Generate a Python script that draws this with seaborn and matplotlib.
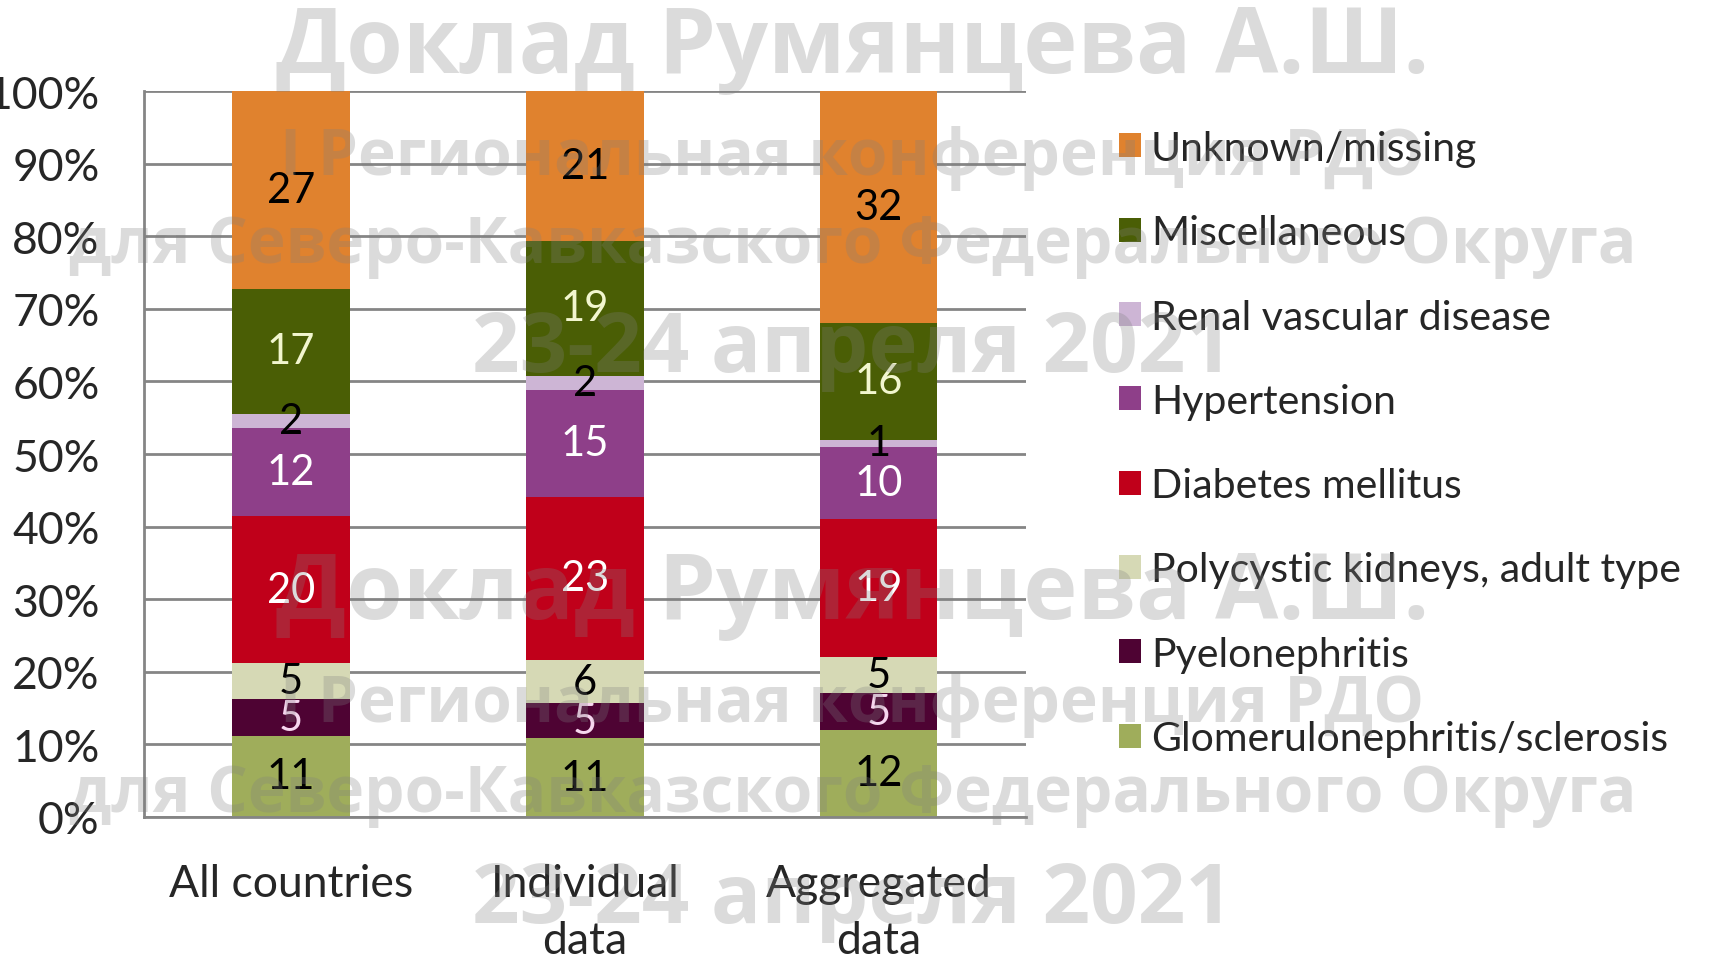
import numpy as np
import pandas as pd
import matplotlib.pyplot as plt
import matplotlib.colors as mcolors
import seaborn as sns

groups = ["All countries", "Individual\ndata", "Aggregated\ndata"]
causes = ["Unknown/missing", "Miscellaneous", "Renal vascular disease", "Hypertension",
          "Diabetes mellitus", "Polycystic kidneys, adult type", "Pyelonephritis",
          "Glomerulonephritis/sclerosis"]

unknown = [27, 21, 32]
misc = [17, 19, 16]
renal = [2, 2, 1]
hypert = [12, 15, 10]
diabetes = [20, 23, 19]
polycystic = [5, 6, 5]
pyelo = [5, 5, 5]
glomerulo = [11, 11, 12]

ytick_vals = [0, 0.1, 0.2, 0.3, 0.4, 0.5, 0.6, 0.7, 0.8, 0.9, 1.0]
ytick_labels = ["0%", "10%", "20%", "30%", "40%", "50%", "60%", "70%", "80%", "90%", "100%"]

watermark = ["Доклад Румянцева А.Ш.", "I Региональная конференция РДО",
             "для Северо-Кавказского Федерального Округа", "23-24 апреля 2021"]

colors = ["#E0822E", "#4A5E05", "#CDB5D5", "#8E3F89", "#C0001A", "#D6D9B5", "#4E0333", "#9FAD5B"]
text_colors = ["black", "#F2F6CF", "black", "white", "white", "black", "#F6D6EE", "black"]

series = [unknown, misc, renal, hypert, diabetes, polycystic, pyelo, glomerulo]
rows = []
for cause, vals in zip(causes, series):
    for g, v in zip(groups, vals):
        rows.append({"group": g, "cause": cause, "value": v})
df = pd.DataFrame(rows)
palette = dict(zip(causes, colors))

sns.set_style("white")
plt.rcParams["font.family"] = ["Lato", "DejaVu Sans"]

fig = plt.figure(figsize=(17.15, 9.62), dpi=100)
ax = fig.add_axes([0.084, 0.150, 0.514, 0.754])

sns.histplot(data=df, x="group", weights="value", hue="cause", hue_order=causes,
             multiple="fill", discrete=True, shrink=0.4, palette=palette,
             alpha=1, linewidth=0, ax=ax)

ax.set_ylim(0, 1)
ax.set_xlim(-0.5, 2.5)
ax.set_yticks(ytick_vals)
ax.set_yticklabels(ytick_labels)
ax.tick_params(axis="y", length=15, width=2, color="#8c8c8c", pad=17, labelsize=32)
ax.set_xticks([-0.5, 0.5, 1.5, 2.5])
ax.set_xticklabels([])
ax.tick_params(axis="x", length=15, width=2, color="#8c8c8c")
ax.set_xticks([0, 1, 2], minor=True)
ax.set_xticklabels(groups, minor=True)
ax.tick_params(axis="x", which="minor", length=0, pad=33, labelsize=32)
for t in ax.get_xticklabels(minor=True):
    t.set_linespacing(1.5)
    t.set_verticalalignment("top")
ax.set_xlabel("")
ax.set_ylabel("")
ax.yaxis.grid(True, color="#858585", linewidth=2)
ax.set_axisbelow(True)
for s in ["top", "right"]:
    ax.spines[s].set_visible(False)
for s in ["left", "bottom"]:
    ax.spines[s].set_color("#858585")
    ax.spines[s].set_linewidth(2)

# value labels (raw numbers) centred in each segment
rgb_list = [mcolors.to_rgb(c) for c in colors]
for p in ax.patches:
    if p.get_height() <= 0:
        continue
    fc = mcolors.to_rgb(p.get_facecolor())
    idx = int(np.argmin([sum((a - b) ** 2 for a, b in zip(fc, c)) for c in rgb_list]))
    gi = int(round(p.get_x() + p.get_width() / 2))
    val = series[idx][gi]
    ax.text(p.get_x() + p.get_width() / 2, p.get_y() + p.get_height() / 2, str(val),
            ha="center", va="center", fontsize=30, color=text_colors[idx], zorder=5)

sns.move_legend(ax, "upper left", bbox_to_anchor=(0.643, 0.881), bbox_transform=fig.transFigure,
                frameon=False, title=None, fontsize=29.5, handlelength=0.53, handleheight=0.53,
                handletextpad=0.25, labelspacing=1.155, borderaxespad=0)

# watermark overlay
wm_y = [0.949, 0.835, 0.744, 0.636, 0.381, 0.267, 0.173, 0.0625]
wm_size = [66, 46, 46, 60]
for k, y in enumerate(wm_y):
    fig.text(0.497, y, watermark[k % 4], ha="center", va="center", fontsize=wm_size[k % 4],
             fontweight="bold", family=["Open Sans", "DejaVu Sans"], color="#808080",
             alpha=0.28, zorder=10)

fig.savefig("out.png", dpi=100)
